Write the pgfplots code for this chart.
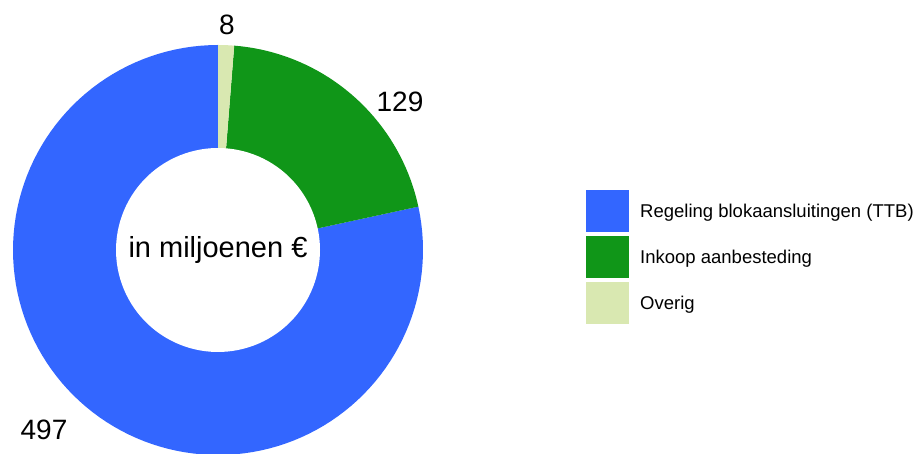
\documentclass[border=0pt]{standalone}
\usepackage{pgfplots}
\pgfplotsset{compat=1.18}
\usepackage{pgfplotstable}
\usepackage{fontspec}
\setmainfont{Liberation Sans}
\definecolor{cReg}{HTML}{3366FF}
\definecolor{cInk}{HTML}{109618}
\definecolor{cOv}{HTML}{D9E8B1}
\pgfplotstableread{
label value
Regeling 497
Inkoop 129
Overig 8
}\data
\pgfplotstablegetelem{0}{value}\of\data \let\va\pgfplotsretval
\pgfplotstablegetelem{1}{value}\of\data \let\vb\pgfplotsretval
\pgfplotstablegetelem{2}{value}\of\data \let\vc\pgfplotsretval
\pgfmathsetmacro\tot{\va+\vb+\vc}
\pgfmathsetmacro\aA{90}
\pgfmathsetmacro\aB{90-(\vc/\tot)*360}
\pgfmathsetmacro\aC{\aB-(\vb/\tot)*360}
\pgfmathsetmacro\aD{\aC-(\va/\tot)*360}
\def\cx{218}
\def\cy{204}
\def\R{205}
\def\Ri{102}
\begin{document}
\begin{tikzpicture}
\begin{axis}[
  x=1bp, y=1bp,
  xmin=0, xmax=916, ymin=0, ymax=454,
  hide axis,
  clip=true,
  legend style={at={(axis cs:586,264)}, anchor=north west, draw=none, fill=none,
    inner sep=0pt, row sep=4bp, column sep=11bp,
    font=\fontsize{18.5bp}{20bp}\selectfont,
    nodes={inner sep=0pt, anchor=west}},
  legend cell align=left,
  legend image code/.code={\path[#1] (0bp,-20.5bp) rectangle (43bp,21.5bp);},
]
\addplot[fill=cReg, draw=none, domain=\aD:\aC, samples=120]
  ({\cx+\R*cos(x)},{\cy+\R*sin(x)}) -- (axis cs:\cx,\cy) -- cycle;
\addlegendentry{Regeling blokaansluitingen (TTB)}
\addplot[fill=cInk, draw=none, domain=\aC:\aB, samples=40]
  ({\cx+\R*cos(x)},{\cy+\R*sin(x)}) -- (axis cs:\cx,\cy) -- cycle;
\addlegendentry{Inkoop aanbesteding}
\addplot[fill=cOv, draw=none, domain=\aB:\aA, samples=6]
  ({\cx+\R*cos(x)},{\cy+\R*sin(x)}) -- (axis cs:\cx,\cy) -- cycle;
\addlegendentry{Overig}
\addplot[fill=white, draw=none, domain=0:360, samples=120, forget plot]
  ({\cx+\Ri*cos(x)},{\cy+\Ri*sin(x)}) -- cycle;
\node[font=\fontsize{29bp}{31bp}\selectfont] at (axis cs:\cx,\cy) {in miljoenen €};
\node[font=\fontsize{28bp}{30bp}\selectfont] at (axis cs:227,429) {8};
\node[font=\fontsize{28bp}{30bp}\selectfont] at (axis cs:400,352) {129};
\node[font=\fontsize{28bp}{30bp}\selectfont] at (axis cs:44,24) {497};
\end{axis}
\pgfresetboundingbox
\path[use as bounding box] (current axis.south west) rectangle (current axis.north east);
\end{tikzpicture}
\end{document}
